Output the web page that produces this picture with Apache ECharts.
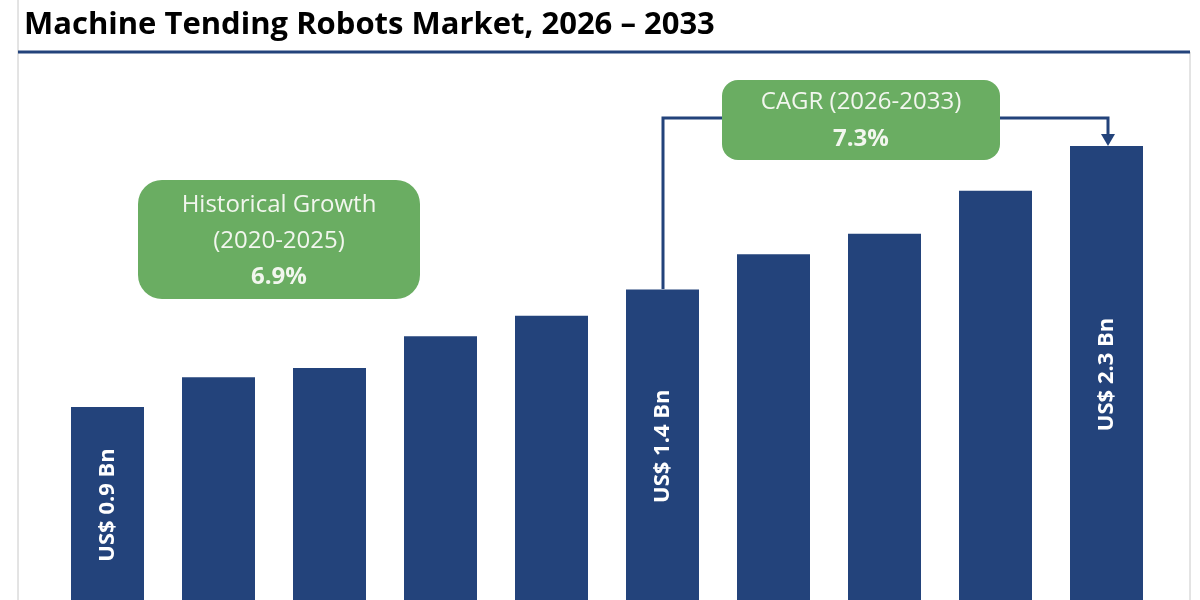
<!DOCTYPE html>
<html>
<head>
<meta charset="utf-8">
<script src="https://cdn.jsdelivr.net/npm/echarts@6/dist/echarts.min.js"></script>
<style>html,body{margin:0;background:#fff}#main{width:1200px;height:600px}</style>
</head>
<body>
<div id="main"></div>
<script>
// 数据
const years = ['2020', '2021', '2022', '2023', '2024', '2025', '2026', '2027', '2028', '2033']
const marketValues = [0.9, 1.06, 1.11, 1.28, 1.39, 1.53, 1.72, 1.83, 2.06, 2.3]
const barLabels = ['US$ 0.9 Bn', '', '', '', '', 'US$ 1.4 Bn', '', '', '', 'US$ 2.3 Bn']
// 坐标轴被截断，柱子延伸到底部
const axisMin = -0.135
const axisMax = 2.547

const green = '#6aad62'
const navy = '#23437b'
const font = '"Open Sans", "Noto Sans", sans-serif'

// 自定义柱子：从坐标轴底部画到数值，避免两段拼接的缝
function renderBar(params, api) {
  const idx = api.value(0)
  const val = api.value(1)
  const top = api.coord([idx, val])
  const bottom = api.coord([idx, axisMin])
  const zero = api.coord([idx, 0])
  const w = 73
  const children = [{
    type: 'rect',
    shape: { x: top[0] - w / 2, y: top[1], width: w, height: bottom[1] - top[1] },
    style: { fill: navy }
  }]
  const text = barLabels[params.dataIndex]
  if (text) {
    children.push({
      type: 'text',
      x: top[0],
      y: (top[1] + zero[1]) / 2 + 14,
      rotation: Math.PI / 2,
      style: {
        text: text,
        fill: '#fff',
        font: 'bold 22px ' + font,
        align: 'center',
        verticalAlign: 'middle'
      }
    })
  }
  return { type: 'group', children: children }
}

const chart = echarts.init(document.getElementById('main'))
chart.setOption({
  animation: false,
  grid: { top: 100, bottom: 0, left: 52, right: 38, outerBoundsMode: 'none', containLabel: false },
  xAxis: {
    type: 'category',
    data: years,
    show: false
  },
  yAxis: { type: 'value', min: axisMin, max: axisMax, show: false },
  series: [{
    type: 'custom',
    renderItem: renderBar,
    encode: { x: 0, y: 1 },
    data: marketValues.map((v, i) => [i, v])
  }],
  graphic: [
    // 边框与标题
    { type: 'line', shape: { x1: 18, y1: 0, x2: 18, y2: 600 }, style: { stroke: '#c8c8c8', lineWidth: 1 } },
    { type: 'line', shape: { x1: 1190, y1: 52, x2: 1190, y2: 600 }, style: { stroke: '#c8c8c8', lineWidth: 1 } },
    { type: 'text', left: 24, top: 10, style: { text: 'Machine Tending Robots Market, 2026 – 2033', font: 'bold 31px ' + font, fill: '#000' } },
    { type: 'line', shape: { x1: 18, y1: 52, x2: 1190, y2: 52 }, style: { stroke: navy, lineWidth: 3 } },
    // 连接线
    { type: 'polyline', shape: { points: [[663, 289], [663, 118], [722, 118]] }, style: { stroke: navy, lineWidth: 3, fill: null } },
    { type: 'polyline', shape: { points: [[1000, 118], [1108, 118], [1108, 136]] }, style: { stroke: navy, lineWidth: 3, fill: null } },
    { type: 'polygon', shape: { points: [[1101, 134], [1115, 134], [1108, 146]] }, style: { fill: navy } },
    // 标注框
    { type: 'rect', shape: { x: 722, y: 80, width: 278, height: 80, r: 16 }, style: { fill: green } },
    { type: 'text', x: 861, y: 102, style: { text: 'CAGR (2026-2033)', font: '24px ' + font, fill: '#f2f6ee', align: 'center', verticalAlign: 'middle' } },
    { type: 'text', x: 861, y: 139, style: { text: '7.3%', font: 'bold 24px ' + font, fill: '#f2f6ee', align: 'center', verticalAlign: 'middle' } },
    { type: 'rect', shape: { x: 138, y: 180, width: 282, height: 119, r: 24 }, style: { fill: green } },
    { type: 'text', x: 279, y: 205, style: { text: 'Historical Growth', font: '24px ' + font, fill: '#f2f6ee', align: 'center', verticalAlign: 'middle' } },
    { type: 'text', x: 279, y: 241, style: { text: '(2020-2025)', font: '24px ' + font, fill: '#f2f6ee', align: 'center', verticalAlign: 'middle' } },
    { type: 'text', x: 279, y: 277, style: { text: '6.9%', font: 'bold 24px ' + font, fill: '#f2f6ee', align: 'center', verticalAlign: 'middle' } }
  ]
})
</script>
</body>
</html>
